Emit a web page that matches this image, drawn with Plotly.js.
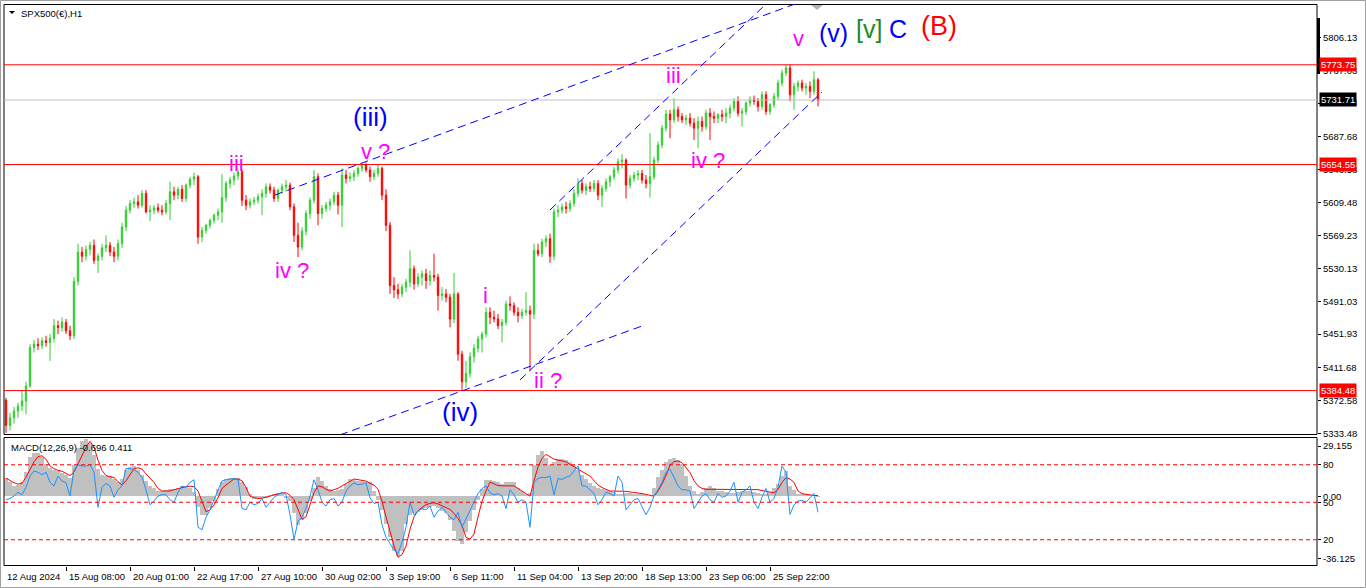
<!DOCTYPE html>
<html><head><meta charset="utf-8">
<script src="https://cdn.plot.ly/plotly-3.0.1.min.js"></script>
<style>html,body{margin:0;padding:0;background:#fff;overflow:hidden}#chart{width:1366px;height:588px}</style>
</head><body><div id="chart"></div>
<script>
// ---- data (4-hour groups of the H1 chart) ----
const timeLabels = ["12 Aug 2024","15 Aug 08:00","20 Aug 01:00","22 Aug 17:00","27 Aug 10:00","30 Aug 02:00","3 Sep 19:00","6 Sep 11:00","11 Sep 04:00","13 Sep 20:00","18 Sep 13:00","23 Sep 06:00","25 Sep 22:00"];
const timeLabelBars = [-0.25,15,31,47,63,79,95,111,127,143,159,175,191];

const openP = [5373,5343,5352,5360,5366,5372,5390,5436,5440,5438,
5444,5442,5447,5462,5460,5466,5456,5450,5515,5550,
5545,5553,5558,5540,5545,5555,5558,5550,5545,5560,
5580,5600,5608,5610,5606,5620,5598,5600,5603,5600,
5598,5608,5622,5618,5625,5614,5630,5637,5640,5568,
5576,5582,5588,5594,5598,5615,5632,5636,5641,5646,
5612,5606,5610,5612,5616,5620,5628,5624,5614,5624,
5628,5630,5604,5570,5556,5575,5596,5612,5640,5596,
5602,5606,5610,5618,5606,5642,5638,5640,5644,5650,
5654,5648,5640,5644,5650,5618,5582,5510,5505,5500,
5508,5514,5530,5512,5520,5524,5516,5522,5520,5498,
5500,5496,5470,5500,5428,5395,5405,5425,5435,5446,
5452,5478,5472,5470,5462,5466,5488,5486,5478,5474,
5478,5480,5476,5552,5548,5562,5566,5545,5598,5600,
5604,5602,5608,5620,5632,5624,5628,5626,5632,5618,
5626,5634,5640,5648,5658,5660,5630,5638,5642,5644,
5636,5632,5640,5660,5678,5698,5715,5708,5720,5712,
5708,5710,5704,5698,5706,5700,5716,5712,5710,5714,
5712,5716,5722,5730,5716,5718,5728,5732,5730,5724,
5738,5718,5726,5736,5752,5764,5770,5738,5748,5752,
5746,5748,5742,5756];
const highP = [5376,5358,5365,5370,5385,5395,5440,5445,5447,5448,
5450,5452,5470,5468,5472,5470,5462,5520,5560,5556,
5558,5562,5565,5548,5560,5570,5562,5556,5565,5585,
5605,5612,5615,5618,5624,5624,5606,5606,5608,5606,
5612,5634,5628,5628,5630,5632,5640,5645,5642,5580,
5584,5590,5596,5602,5643,5635,5640,5645,5650,5648,
5618,5614,5616,5620,5625,5632,5632,5628,5626,5632,
5636,5633,5608,5585,5580,5600,5615,5648,5644,5606,
5610,5614,5622,5622,5650,5648,5645,5648,5652,5656,
5657,5652,5648,5654,5652,5625,5586,5520,5512,5512,
5518,5552,5534,5525,5528,5530,5528,5548,5524,5508,
5506,5500,5525,5502,5432,5420,5430,5440,5450,5455,
5484,5484,5480,5476,5470,5492,5497,5490,5484,5482,
5502,5486,5560,5560,5566,5570,5572,5602,5606,5608,
5610,5612,5625,5638,5636,5632,5634,5636,5636,5630,
5638,5642,5652,5662,5667,5662,5642,5646,5648,5648,
5642,5692,5664,5682,5702,5720,5720,5734,5724,5716,
5714,5716,5710,5712,5712,5720,5722,5718,5716,5720,
5722,5726,5734,5736,5722,5730,5736,5737,5734,5742,
5742,5728,5740,5756,5768,5774,5774,5752,5755,5756,
5752,5754,5766,5758];
const lowP = [5334,5337,5345,5352,5360,5356,5388,5430,5433,5434,
5437,5420,5442,5452,5455,5452,5445,5446,5510,5538,
5540,5546,5536,5525,5540,5550,5545,5538,5540,5555,
5575,5596,5603,5602,5603,5596,5587,5595,5597,5594,
5595,5588,5612,5613,5610,5610,5626,5630,5560,5562,
5572,5578,5584,5588,5585,5610,5626,5630,5636,5605,
5600,5602,5606,5608,5594,5615,5620,5610,5610,5620,
5622,5600,5562,5544,5552,5570,5590,5608,5582,5590,
5598,5600,5606,5595,5580,5632,5634,5635,5640,5646,
5645,5634,5636,5640,5612,5575,5500,5495,5494,5496,
5502,5508,5505,5508,5510,5506,5510,5515,5480,5492,
5490,5460,5465,5420,5384,5388,5400,5418,5430,5430,
5448,5464,5466,5458,5442,5462,5480,5474,5466,5470,
5474,5408,5470,5545,5544,5556,5537,5540,5592,5596,
5596,5598,5604,5616,5620,5618,5622,5622,5612,5604,
5622,5628,5636,5644,5650,5614,5626,5634,5636,5632,
5626,5615,5636,5656,5674,5694,5686,5704,5706,5704,
5702,5700,5684,5674,5694,5696,5684,5704,5704,5706,
5704,5710,5718,5712,5700,5714,5724,5726,5718,5720,
5714,5714,5722,5732,5748,5760,5730,5720,5742,5742,
5738,5734,5738,5724];
const closeP = [5343,5352,5360,5366,5372,5390,5436,5440,5438,5444,
5442,5447,5462,5460,5466,5456,5450,5515,5550,5545,
5553,5558,5540,5545,5555,5558,5550,5545,5560,5580,
5600,5608,5610,5606,5620,5598,5600,5603,5600,5598,
5608,5622,5618,5625,5614,5630,5637,5640,5568,5576,
5582,5588,5594,5598,5615,5632,5636,5641,5646,5612,
5606,5610,5612,5616,5620,5628,5624,5614,5624,5628,
5630,5604,5570,5556,5575,5596,5612,5640,5596,5602,
5606,5610,5618,5606,5642,5638,5640,5644,5650,5654,
5648,5640,5644,5650,5618,5582,5510,5505,5500,5508,
5514,5530,5512,5520,5524,5516,5522,5520,5498,5500,
5496,5470,5500,5428,5395,5405,5425,5435,5446,5452,
5478,5472,5470,5462,5466,5488,5486,5478,5474,5478,
5480,5476,5552,5548,5562,5566,5545,5598,5600,5604,
5602,5608,5620,5632,5624,5628,5626,5632,5618,5626,
5634,5640,5648,5658,5660,5630,5638,5642,5644,5636,
5632,5640,5660,5678,5698,5715,5708,5720,5712,5708,
5710,5704,5698,5706,5700,5716,5712,5710,5714,5712,
5716,5722,5730,5716,5718,5728,5732,5730,5724,5738,
5718,5726,5736,5752,5764,5770,5738,5748,5752,5746,
5748,5742,5756,5731.71];

const macdMain = [10.5,8,6,6.5,8,14,23,25,25,23,
19,16.6,15.5,14.5,13.5,12.5,10.5,18,28,32,
33,31,24,16,12.5,12,11.5,10,8,10,
15,17,17.5,15,12.5,9,6,4.5,3,3,
3.5,4,4,5,6,5.5,5,2.5,-6,-11,
-11,-7,-3,4,8.5,10,10.5,10.8,10.5,8.5,
5.5,1,-1.6,-1.2,-1,-0.8,0.5,1.5,2,1,
-1,-3,-10,-17,-14,-10,-3,5,11,9,
6,4,3,3.5,4,7,10,9.5,9,9,
8.5,8,3,-2,-8,-16,-24,-32,-34.8,-32,
-16,-11,-10,-9,-8,-7,-6,-5.8,-7,-8.5,
-9.5,-14,-20,-26,-27.8,-21,-14.5,-8,-2,4,
9.5,9.5,8.8,8,7,8,8.5,8,5,3,
1.5,2,18,24,26,22,18,20,21.4,21.4,
21,20,18,15,12.5,10,7.8,6,4.5,4,
3.5,3,2.5,1.5,1.5,2,1.8,1.5,1.3,1,
0.5,0.2,5,11,15,20,21.5,22.4,21,19,
12,6,3,1.5,2.5,4.5,6,4.5,3,3,
2.5,2,2,2.5,3,3,3,2.5,2,1.5,
1.3,2.5,4.5,7,12,14.7,6,3.5,1.5,1.2,
1,0.5,0.1,-0.7];
const macdSignal = [10.5,9,7.8,7,7.5,11,15.5,20,23,23.5,
21.5,17.6,16,15,14.5,13,12,14,19,24.5,
28.5,32,28.5,21,15,12,11.3,10.8,8.5,6.5,
9,12.7,16,16.5,15.8,13,10.8,8,4.5,3,
3,3,3.8,4.5,5,5.5,5.8,5.5,3,-3,
-9,-8,-5,-1,4.5,6.5,8.5,10,10,9,
5,0,-0.8,-1.4,-1.2,-0.8,0,0.8,1.5,1.8,
2,0.5,-2,-8,-13.4,-12,-5,2,6,5.5,
4,3,3.8,4.6,6,7.5,9,10,9.6,9.2,
8.8,7.5,6.5,4,-3,-12,-21,-29,-35.5,-34,
-29,-19.3,-12,-8.5,-6.5,-5,-4.2,-3.8,-4.5,-5.5,
-6.8,-7.7,-10,-13,-17,-24,-25,-22,-12,-3,
3,8.2,7.2,6.2,6,6,6,6,4.5,3,
1.5,0,9,17,22,24.3,23,21.5,21,20.5,
20,18.5,17,16,14.5,13,11.7,9,6.5,5,
4,3,3,3,3,2.8,2.5,2.3,2,1.5,
1,0.3,0,3,7,12,18,20,20.5,19.5,
16.5,13.7,9,6,4.5,4,4,4,4,4,
4,4,4,4,4,4,4,4,3.8,3.3,
3,2.5,2,4,8,10.8,10,8,3,1.5,
1,0.5,0.4,0.4];
const oscLine = [52,53,55,58,56,62,71,75,74,72,
74,66,63,71,67,65.6,55,76,80,79,
79,80,74,46,62,65,63,54,60,63,
77,77,76,74,70,60,48,51,55,56,
56,52,50,58,63,62,66,68,30,28,
38,44,52,60,67,68,68.3,69,68,45,
44,50,48,49,53,46,50,54,56,58,
56,40,20.3,35,38,45,55,68,60,50,
47,52,53,47,50,59,63,65.6,64,64.5,
65.6,53.6,49,50,32,22,17,12,9,18,
30,50,40,43,45,44,47,38,43,46,
42,38,36,42,30,37,44,50,57,61,
63,57.6,56,57,55,45,60,56,50,52,
50,30,66,69,70,69.6,71,56,69,68.3,
70,71,75,79,63,63,60,57,48,52,
58,57,55,71,66,44,48,52,53,46,
40,46,55,60,66,74,76.3,70,63,60,
60,59,45,50,55,57,52,50,57,54,
55,59,66,50,58,60,63,50,45,54,
61,50,53,62,79,74,40.3,48,51,51.5,
50,53.6,57,42];

const priceTicks = [5806.13,5767.03,5727.93,5687.68,5648.58,5609.48,5569.23,5530.13,5491.03,5451.93,5411.68,5372.58,5333.48];
const levelPrices = [5773.75,5654.55,5384.48];
const bidPrice = 5731.71;
const macdTicks = [29.155,0,-36.125];
const macdTickText = ["29.155","0.00","-36.125"];
const oscLevels = [80,50,20];

const waveText  = ["iii","iv ?","(iii)","v ?","i","ii ?","(iv)","iii","iv ?","v","(v)","[v]","C","(B)"];
const waveBar   = [57.5,71.5,91,92.25,119.75,135.5,113.5,166.75,175.5,198,206.9,215.75,222.9,233.25];
const wavePrice = [5656,5528,5711.4,5669.6,5498.6,5396,5358.8,5760.4,5660,5805.2,5811.7,5817.1,5817.1,5820.7];

// trend lines: [bar0, price0, bar1, price1]
const trendLines = [
  [67.25,5618.2,197.25,5846.4],
  [83.5,5331.5,159.75,5462.9],
  [128.5,5397.2,204,5741.3],
  [136,5600.3,189.75,5845.2]
];

// ---- styling / layout ----
const W=1366,H=588,ML=4,MR=49,MT=4,MB=22;
const plotW=W-ML-MR, plotH=H-MT-MB;
const px2x = px => (px-ML)/plotW;
const py2y = py => (H-MB-py)/plotH;
const FONT = "Liberation Sans, Arial, sans-serif";
const NARROW = "Liberation Sans Narrow, Liberation Sans, Arial, sans-serif";

const bars = openP.map((_,i)=>i);
const waveColor = ["#FF00FF","#FF00FF","#0000FF","#FF00FF","#FF00FF","#FF00FF","#0000FF","#FF00FF","#FF00FF","#FF00FF","#0000FF","#1E8C1E","#0000FF","#FF0000"];
const waveSize  = [22,22,26,22,22,22,26,22,22,22,25,25,25,27];

const traces = [
  {type:'candlestick', x:bars, open:openP, high:highP, low:lowP, close:closeP,
   increasing:{line:{color:'#32CD32',width:1},fillcolor:'#32CD32'},
   decreasing:{line:{color:'#FF0000',width:1},fillcolor:'#FF0000'},
   whiskerwidth:0, hoverinfo:'skip', xaxis:'x', yaxis:'y'},
  {type:'bar', x:bars, y:macdMain, width:1, marker:{color:'#C0C0C0',line:{width:0}}, hoverinfo:'skip', xaxis:'x', yaxis:'y2'},
  {type:'scatter', mode:'lines', x:bars, y:macdSignal, line:{color:'#FF0000',width:1}, hoverinfo:'skip', xaxis:'x', yaxis:'y2'},
  {type:'scatter', mode:'lines', x:bars, y:oscLine, line:{color:'#1E90FF',width:1}, hoverinfo:'skip', xaxis:'x', yaxis:'y3'}
];

const shapes = [];
shapes.push({type:'rect',xref:'paper',yref:'paper',x0:px2x(0.5),x1:px2x(1365.5),y0:py2y(587.5),y1:py2y(0.5),line:{color:'#A0A0A0',width:1}});
shapes.push({type:'rect',xref:'paper',yref:'paper',x0:0,x1:1,y0:py2y(434.5),y1:py2y(4.5),line:{color:'#000',width:1}});
shapes.push({type:'rect',xref:'paper',yref:'paper',x0:0,x1:1,y0:py2y(565.5),y1:py2y(437.5),line:{color:'#000',width:1}});
levelPrices.forEach(p=>shapes.push({type:'line',xref:'paper',yref:'y',x0:0,x1:1,y0:p,y1:p,line:{color:'#FF0000',width:1}}));
shapes.push({type:'line',xref:'paper',yref:'y',x0:0,x1:1,y0:bidPrice,y1:bidPrice,line:{color:'#C0C0C0',width:1}});
trendLines.forEach(t=>shapes.push({type:'line',xref:'x',yref:'y',x0:t[0],y0:t[1],x1:t[2],y1:t[3],line:{color:'#0000FF',width:1,dash:'8px,5px'}}));
oscLevels.forEach(v=>shapes.push({type:'line',xref:'paper',yref:'y3',x0:0,x1:1,y0:v,y1:v,line:{color:'#FF0000',width:1,dash:'4px,3px'}}));
shapes.push({type:'rect',xref:'paper',yref:'paper',x0:px2x(1317),x1:px2x(1320),y0:py2y(74),y1:py2y(18),fillcolor:'#000',line:{width:0}});
shapes.push({type:'path',xref:'paper',yref:'paper',path:`M ${px2x(811)} ${py2y(5)} L ${px2x(823)} ${py2y(5)} L ${px2x(817)} ${py2y(10)} Z`,fillcolor:'#B4B4B4',line:{width:0}});
shapes.push({type:'path',xref:'paper',yref:'paper',path:`M ${px2x(9)} ${py2y(11)} L ${px2x(15)} ${py2y(11)} L ${px2x(12)} ${py2y(14)} Z`,fillcolor:'#000',line:{width:0}});

const annotations = [];
timeLabels.forEach((t,k)=>annotations.push({text:t,x:timeLabelBars[k],xref:'x',y:0,yref:'paper',xanchor:'left',yanchor:'top',xshift:k===0?0:1,yshift:-3,showarrow:false,font:{family:FONT,size:9.5,color:'#000'}}));
levelPrices.forEach(p=>annotations.push({text:p.toFixed(2),x:1,xref:'paper',y:p,yref:'y',xanchor:'left',yanchor:'middle',xshift:2,showarrow:false,bgcolor:'#FF0000',borderpad:1,font:{family:FONT,size:9.5,color:'#fff'}}));
annotations.push({text:bidPrice.toFixed(2),x:1,xref:'paper',y:bidPrice,yref:'y',xanchor:'left',yanchor:'middle',xshift:2,showarrow:false,bgcolor:'#000',borderpad:1,font:{family:FONT,size:9.5,color:'#fff'}});
waveText.forEach((t,k)=>annotations.push({text:t,x:waveBar[k],xref:'x',y:wavePrice[k],yref:'y',showarrow:false,xanchor:'center',yanchor:'middle',font:{family:NARROW,size:waveSize[k],color:waveColor[k]}}));
annotations.push({text:'SPX500(€),H1',x:px2x(19),xref:'paper',y:py2y(13),yref:'paper',xanchor:'left',yanchor:'middle',showarrow:false,font:{family:FONT,size:9.5,color:'#000'}});
annotations.push({text:'MACD(12,26,9) -0.696 0.411',x:px2x(9),xref:'paper',y:py2y(447),yref:'paper',xanchor:'left',yanchor:'middle',showarrow:false,font:{family:FONT,size:9.5,color:'#000'}});

const axFont = {family:FONT,size:9.5,color:'#000'};
const layout = {
  width:W,height:H,margin:{l:ML,r:MR,t:MT,b:MB,pad:0},
  paper_bgcolor:'#fff',plot_bgcolor:'#fff',showlegend:false,
  font:axFont, bargap:0, boxgap:0.5, hovermode:false,
  xaxis:{range:[-0.5,327.75],anchor:'y2',showgrid:false,zeroline:false,showline:false,
         tickvals:timeLabelBars.slice(1),ticks:'outside',ticklen:4,tickcolor:'#000',showticklabels:false,
         rangeslider:{visible:false},fixedrange:true},
  yaxis:{domain:[py2y(434),py2y(4)],range:[5332.6,5846.4],side:'right',anchor:'x',
         tickvals:priceTicks,ticktext:priceTicks.map(v=>v.toFixed(2)),ticks:'outside',ticklen:3,tickcolor:'#000',
         showgrid:false,zeroline:false,showline:false,tickfont:axFont,fixedrange:true},
  yaxis2:{domain:[py2y(566),py2y(438)],range:[-40.6,33.84],side:'right',anchor:'x',
         tickvals:macdTicks,ticktext:macdTickText,ticks:'outside',ticklen:3,tickcolor:'#000',
         showgrid:false,zeroline:false,showline:false,tickfont:axFont,fixedrange:true},
  yaxis3:{overlaying:'y2',range:[-1.0,101.4],side:'right',anchor:'x',
         tickvals:oscLevels,ticktext:oscLevels.map(String),ticks:'outside',ticklen:3,tickcolor:'#000',
         showgrid:false,zeroline:false,showline:false,tickfont:axFont,fixedrange:true},
  shapes:shapes, annotations:annotations
};
Plotly.newPlot('chart',traces,layout,{staticPlot:true,displayModeBar:false});
</script></body></html>
